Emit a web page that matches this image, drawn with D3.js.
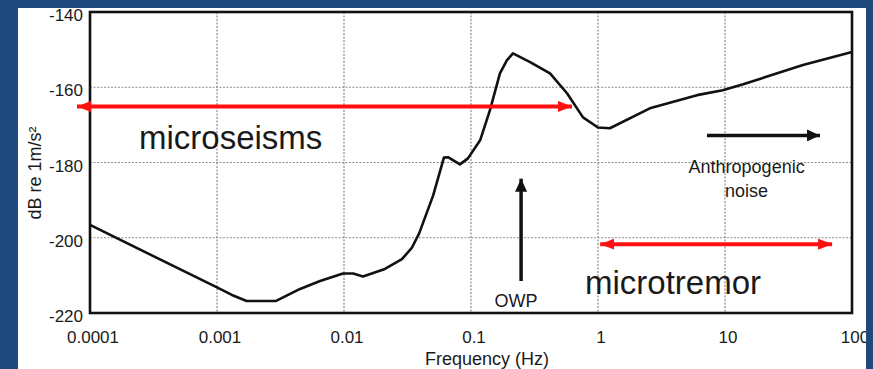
<!DOCTYPE html>
<html>
<head>
<meta charset="utf-8">
<script src="https://cdn.jsdelivr.net/npm/d3@7"></script>
<style>
  html, body { margin: 0; padding: 0; background: #1f497d; }
  svg { display: block; }
  text { font-family: "Liberation Sans", Arial, sans-serif; fill: #1a1a1a; }
</style>
</head>
<body>
<svg id="chart" width="873" height="369"></svg>
<script>
/** Noise spectrum: frequency (Hz) and level (dB re 1 m/s^2). */
const freqs = [0.0001, 0.001, 0.00131, 0.00171, 0.00292, 0.00451, 0.00648, 0.00982,
  0.0118, 0.0141, 0.021, 0.0286, 0.0343, 0.039, 0.0503, 0.0612, 0.0659, 0.0818,
  0.0946, 0.118, 0.141, 0.169, 0.192, 0.214, 0.292, 0.419, 0.57, 0.762, 1.0, 1.24,
  2.56, 6.02, 9.6, 13.9, 41.1, 100];
const levels = [-196.6, -213.2, -215.2, -216.8, -216.8, -213.6, -211.5, -209.5,
  -209.5, -210.3, -208.3, -205.7, -202.6, -198.9, -188.8, -178.7, -178.6, -180.5,
  -178.9, -174.1, -166.1, -156.3, -152.8, -151.0, -153.3, -156.3, -161.6, -168.0, -170.7, -170.9,
  -165.6, -162.1, -160.8, -159.2, -154.1, -150.6];

/** Axis ticks. */
const xTicks = [0.0001, 0.001, 0.01, 0.1, 1, 10, 100];
const xTickLabels = ["0.0001", "0.001", "0.01", "0.1", "1", "10", "100"];
const yTicks = [-140, -160, -180, -200, -220];

/** Red range arrows: [from Hz, to Hz, dB]. */
const rangeArrows = [[7.9e-5, 0.624, -165.1], [1.04, 69.7, -201.7]];
/** Black pointer arrows: [x1 Hz, dB1, x2 Hz, dB2]. */
const pointerArrows = [[0.248, -211.5, 0.248, -184.3], [7.21, -172.8, 56, -172.8]];
/** Labels: [text, Hz, dB, size, anchor]. */
const labels = [
  ["microseisms", 2.43e-4, -176.3, 33, "start"],
  ["microtremor", 0.79, -214.9, 33, "start"],
  ["OWP", 0.226, -218.4, 18, "middle"],
  ["Anthropogenic", 14.8, -182.9, 18, "middle"],
  ["noise", 14.8, -189.3, 18, "middle"],
];

const svg = d3.select("#chart");
/** Plot box in pixels. */
const plot = { left: 90, right: 852, top: 12, bottom: 313 };

const x = d3.scaleLog().domain([0.0001, 100]).range([plot.left, plot.right]);
const y = d3.scaleLinear().domain([-220, -140]).range([plot.bottom, plot.top]);

const defs = svg.append("defs");
defs.append("clipPath").attr("id", "panel")
  .append("rect").attr("x", 18).attr("y", 8).attr("width", 848).attr("height", 361);

/** Arrow heads. */
function head(id, color, w, h) {
  defs.append("marker").attr("id", id)
    .attr("viewBox", `0 0 ${w} ${h}`)
    .attr("refX", w).attr("refY", h / 2)
    .attr("markerWidth", w).attr("markerHeight", h)
    .attr("markerUnits", "userSpaceOnUse")
    .attr("orient", "auto-start-reverse")
    .append("path").attr("d", `M0,0L${w},${h / 2}L0,${h}Z`).attr("fill", color);
}
head("redHead", "#ff1010", 14, 11);
head("blackHead", "#111", 13, 12);

const g = svg.append("g").attr("clip-path", "url(#panel)");
g.append("rect").attr("x", 18).attr("y", 8).attr("width", 848).attr("height", 361)
  .attr("fill", "#fff");

/** Dotted grid. */
g.append("g").selectAll("line").data(xTicks.slice(1, -1)).join("line")
  .attr("x1", (d) => x(d)).attr("x2", (d) => x(d))
  .attr("y1", plot.top).attr("y2", plot.bottom)
  .attr("stroke", "#8a8a8a").attr("stroke-width", 1.2).attr("stroke-dasharray", "2,1.5");
g.append("g").selectAll("line").data(yTicks.slice(1, -1)).join("line")
  .attr("x1", plot.left).attr("x2", plot.right)
  .attr("y1", (d) => y(d)).attr("y2", (d) => y(d))
  .attr("stroke", "#8a8a8a").attr("stroke-width", 1.2).attr("stroke-dasharray", "2,1.5");

/** Tick labels. */
g.append("g").selectAll("text").data(xTicks).join("text")
  .attr("x", (d) => x(d) + 3).attr("y", 343)
  .attr("text-anchor", "middle").attr("font-size", 17)
  .text((d, i) => xTickLabels[i]);
g.append("g").selectAll("text").data(yTicks).join("text")
  .attr("x", 83).attr("y", (d) => y(d) + 9)
  .attr("text-anchor", "end").attr("font-size", 17)
  .text((d) => d);

/** Axis titles. */
g.append("text").attr("x", 487).attr("y", 365)
  .attr("text-anchor", "middle").attr("font-size", 18).text("Frequency (Hz)");
g.append("text").attr("transform", "translate(41,173) rotate(-90)")
  .attr("text-anchor", "middle").attr("font-size", 18).text("dB re 1m/s²");

/** Spectrum curve. */
const line = d3.line().x((d) => x(d[0])).y((d) => y(d[1]));
g.append("path").datum(freqs.map((f, i) => [f, levels[i]]))
  .attr("d", line).attr("fill", "none")
  .attr("stroke", "#111").attr("stroke-width", 2.6).attr("stroke-linejoin", "round");

/** Plot frame. */
g.append("rect").attr("x", plot.left).attr("y", plot.top)
  .attr("width", plot.right - plot.left).attr("height", plot.bottom - plot.top)
  .attr("fill", "none").attr("stroke", "#111").attr("stroke-width", 2.6);

/** Annotations. */
g.append("g").selectAll("line").data(rangeArrows).join("line")
  .attr("x1", (d) => x(d[0])).attr("x2", (d) => x(d[1]))
  .attr("y1", (d) => y(d[2])).attr("y2", (d) => y(d[2]))
  .attr("stroke", "#ff1010").attr("stroke-width", 4)
  .attr("marker-start", "url(#redHead)").attr("marker-end", "url(#redHead)");
g.append("g").selectAll("line").data(pointerArrows).join("line")
  .attr("x1", (d) => x(d[0])).attr("y1", (d) => y(d[1]))
  .attr("x2", (d) => x(d[2])).attr("y2", (d) => y(d[3]))
  .attr("stroke", "#111").attr("stroke-width", 3.5)
  .attr("marker-end", "url(#blackHead)");
g.append("g").selectAll("text").data(labels).join("text")
  .attr("x", (d) => x(d[1])).attr("y", (d) => y(d[2]))
  .attr("font-size", (d) => d[3]).attr("text-anchor", (d) => d[4])
  .text((d) => d[0]);
</script>
</body>
</html>
